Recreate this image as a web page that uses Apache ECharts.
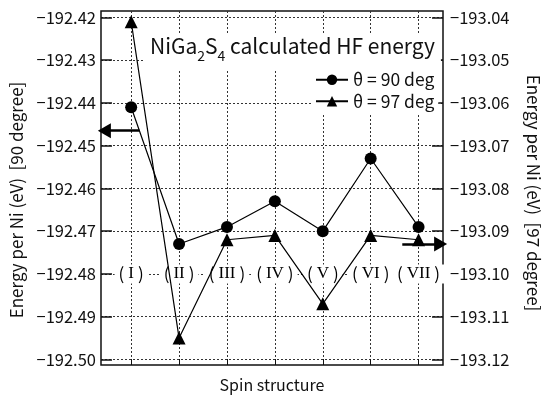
<!DOCTYPE html>
<html>
<head>
<meta charset="utf-8">
<script src="https://cdn.jsdelivr.net/npm/echarts@6/dist/echarts.min.js"></script>
<style>
  html, body { margin: 0; padding: 0; background: #fff; }
  #chart { width: 550px; height: 398px; }
</style>
</head>
<body>
<div id="chart"></div>
<script>
// spin structures (x positions 1..7)
var categories = ['I', 'II', 'III', 'IV', 'V', 'VI', 'VII'];
var xPos = [1, 2, 3, 4, 5, 6, 7];
// energy per Ni (eV)
var theta90 = [-192.441, -192.473, -192.469, -192.463, -192.470, -192.453, -192.469];
var theta97 = [-193.041, -193.115, -193.092, -193.091, -193.107, -193.091, -193.092];
var leftTicks = [-192.50, -192.49, -192.48, -192.47, -192.46, -192.45, -192.44, -192.43, -192.42];
var rightTicks = [-193.12, -193.11, -193.10, -193.09, -193.08, -193.07, -193.06, -193.05, -193.04];
var labelLevel = -192.48;

var FONT = '"Noto Sans CJK JP", "Liberation Sans", sans-serif';
var myChart = echarts.init(document.getElementById('chart'));

function fmt(v) {
    return v.toFixed(2).replace('-', '\u2212');
}

var dotted = { color: '#333', type: [2, 2], width: 1 };

myChart.setOption({
    animation: false,
    backgroundColor: '#fff',
    title: {
        text: '{a|NiGa}{s|2}{a|S}{s|4}{a| calculated HF energy}',
        left: 144,
        top: 29,
        padding: [1, 6, 6, 6],
        backgroundColor: '#fff',
        textStyle: {
            rich: {
                a: { fontFamily: FONT, fontSize: 21, fontWeight: 'normal', color: '#111', verticalAlign: 'bottom', lineHeight: 27 },
                s: { fontFamily: FONT, fontSize: 14, fontWeight: 'normal', color: '#111', verticalAlign: 'bottom', lineHeight: 27, padding: [0, 0, -6, 0] }
            }
        }
    },
    legend: {
        orient: 'vertical',
        left: 311,
        top: 67,
        itemWidth: 32,
        itemHeight: 13,
        itemGap: 4,
        padding: [4, 4, 4, 4],
        backgroundColor: '#fff',
        textStyle: { fontFamily: FONT, fontSize: 17.5, color: '#111' },
        data: ['θ = 90 deg', 'θ = 97 deg']
    },
    grid: { left: 93, right: 95, top: 11, bottom: 26, show: true, borderColor: '#111', borderWidth: 1.5 },
    xAxis: {
        type: 'value',
        min: 0.37,
        max: 7.51,
        name: 'Spin structure',
        nameLocation: 'middle',
        nameGap: 12,
        nameTextStyle: { fontFamily: FONT, fontSize: 16, color: '#111' },
        axisLine: { show: false },
        axisTick: { show: true, inside: true, length: 6, customValues: xPos, lineStyle: { color: '#111' } },
        axisLabel: { show: false, customValues: xPos },
        splitLine: { show: true, lineStyle: dotted }
    },
    yAxis: [{
        type: 'value',
        position: 'left',
        min: -192.5013,
        max: -192.4185,
        name: 'Energy per Ni (eV)  [90 degree]',
        nameLocation: 'middle',
        nameGap: 76,
        nameTextStyle: { fontFamily: FONT, fontSize: 17, color: '#111', padding: [0, 24, 0, 0] },
        axisLine: { show: false },
        axisTick: { show: true, inside: true, length: 11, customValues: leftTicks, lineStyle: { color: '#111', width: 1.5 } },
        axisLabel: { customValues: leftTicks, formatter: fmt, margin: 5, fontFamily: FONT, fontSize: 16.5, color: '#111' },
        splitLine: { show: true, lineStyle: dotted }
    }, {
        type: 'value',
        position: 'right',
        min: -193.1213,
        max: -193.0385,
        name: 'Energy per Ni (eV)  [97 degree]',
        nameLocation: 'middle',
        nameRotate: -90,
        nameGap: 82,
        nameTextStyle: { fontFamily: FONT, fontSize: 17, color: '#111', padding: [0, 0, 0, 10] },
        axisLine: { show: false },
        axisTick: { show: true, inside: true, length: 11, customValues: rightTicks, lineStyle: { color: '#111', width: 1.5 } },
        axisLabel: { customValues: rightTicks, formatter: fmt, margin: 7, fontFamily: FONT, fontSize: 16.5, color: '#111' },
        splitLine: { show: false }
    }],
    series: [{
        name: 'spin labels',
        type: 'scatter',
        yAxisIndex: 0,
        symbolSize: 1,
        itemStyle: { color: '#fff', opacity: 1 },
        silent: true,
        z: 1,
        data: xPos.map(function (x, i) { return { value: [x, labelLevel], name: categories[i] }; }),
        label: {
            show: true,
            position: 'inside',
            opacity: 1,
            textBorderWidth: 0,
            formatter: function (p) { return '{p|(}{n|' + p.name + '}{p|)}'; },
            backgroundColor: '#fff',
            padding: [1, 0],
            rich: {
                p: { fontFamily: FONT, fontSize: 17, color: '#000', padding: [0, 4], textBorderWidth: 0 },
                n: { fontFamily: '"Liberation Serif", serif', fontSize: 17, color: '#000', textBorderWidth: 0 }
            }
        }
    }, {
        name: 'θ = 90 deg',
        type: 'line',
        yAxisIndex: 0,
        z: 5,
        data: xPos.map(function (x, i) { return [x, theta90[i]]; }),
        symbol: 'circle',
        symbolSize: 12,
        itemStyle: { color: '#000' },
        lineStyle: { color: '#000', width: 1.2 },
        markLine: {
            silent: true,
            symbol: ['none', 'triangle'],
            symbolSize: [15, 13],
            label: { show: false },
            lineStyle: { color: '#000', width: 2.5, type: 'solid' },
            data: [[{ coord: [1.17, -192.4465] }, { coord: [0.44, -192.4465] }]]
        }
    }, {
        name: 'θ = 97 deg',
        type: 'line',
        yAxisIndex: 1,
        z: 5,
        data: xPos.map(function (x, i) { return [x, theta97[i]]; }),
        symbol: 'triangle',
        symbolSize: 13,
        itemStyle: { color: '#000' },
        lineStyle: { color: '#000', width: 1.2 },
        markLine: {
            silent: true,
            symbol: ['none', 'triangle'],
            symbolSize: [15, 13],
            label: { show: false },
            lineStyle: { color: '#000', width: 2.5, type: 'solid' },
            data: [[{ coord: [6.66, -193.093] }, { coord: [7.46, -193.093] }]]
        }
    }]
});
</script>
</body>
</html>
